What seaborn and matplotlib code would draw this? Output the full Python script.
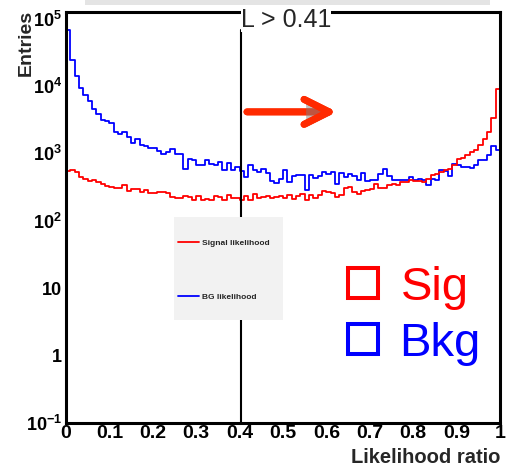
import numpy as np
import pandas as pd
import matplotlib
matplotlib.use("Agg")
import matplotlib.pyplot as plt
import seaborn as sns
from matplotlib.patches import Rectangle
from matplotlib.ticker import LogLocator, NullFormatter, MultipleLocator
import matplotlib.patheffects as pe

# ---------------- data ----------------
n_bins = 100
x_range = (0.0, 1.0)
bin_edges = np.linspace(x_range[0], x_range[1], n_bins + 1)
bin_centers = 0.5 * (bin_edges[:-1] + bin_edges[1:])

bkg_counts = [
    68000, 24000, 14000, 9200, 7300, 5900, 4600, 3800, 3100, 3000,
    2800, 2100, 1960, 2100, 1750, 1440, 1650, 1350, 1280, 1200,
    1200, 1080, 990, 1045, 1175, 990, 990, 578, 834, 787,
    679, 663, 806, 703, 679, 743, 558, 728, 558, 625,
    550, 444, 663, 558, 527, 578, 510, 387, 362, 411,
    572, 375, 455, 470, 470, 282, 470, 435, 455, 527,
    498, 527, 346, 510, 444, 498, 455, 406, 510, 383,
    406, 406, 498, 592, 455, 406, 397, 397, 397, 444,
    397, 420, 397, 334, 420, 406, 572, 545, 455, 686,
    663, 625, 625, 612, 679, 806, 806, 956, 1270, 1110,
]
sig_counts = [
    540, 560, 527, 445, 420, 383, 406, 375, 354, 323,
    316, 310, 305, 334, 275, 298, 292, 266, 282, 257,
    260, 265, 265, 255, 224, 216, 216, 232, 224, 200,
    237, 200, 207, 200, 232, 224, 205, 243, 216, 216,
    205, 237, 200, 252, 219, 224, 237, 219, 224, 237,
    216, 245, 212, 237, 252, 200, 243, 216, 243, 275,
    270, 257, 224, 245, 310, 316, 266, 252, 272, 288,
    298, 354, 310, 310, 334, 354, 334, 375, 375, 397,
    395, 383, 375, 420, 470, 498, 527, 558, 592, 663,
    834, 863, 934, 1045, 1110, 1315, 1653, 2070, 3350, 8930,
]

x_ticks = [0, 0.1, 0.2, 0.3, 0.4, 0.5, 0.6, 0.7, 0.8, 0.9, 1.0]
x_tick_labels = ["0", "0.1", "0.2", "0.3", "0.4", "0.5", "0.6", "0.7", "0.8", "0.9", "1"]
y_ticks = [0.1, 1, 10, 100, 1e3, 1e4, 1e5]
y_tick_labels = ["10$^{-1}$", "1", "10", "10$^{2}$", "10$^{3}$", "10$^{4}$", "10$^{5}$"]
cut_value = 0.403

df = pd.DataFrame({"lr": bin_centers, "sig": sig_counts, "bkg": bkg_counts})

# ---------------- style ----------------
sns.set_style("white")
plt.rcParams["font.family"] = ["Liberation Sans", "DejaVu Sans"]
plt.rcParams.update({
    "mathtext.fontset": "custom",
    "mathtext.rm": "Liberation Sans:bold",
    "mathtext.it": "Liberation Sans:bold",
    "mathtext.bf": "Liberation Sans:bold",
    "mathtext.default": "rm",
})

W, H = 513, 467
fig = plt.figure(figsize=(W / 100, H / 100), dpi=100)
ax = fig.add_axes([66 / W, 1 - 423 / H, 434 / W, 411 / H])

sns.histplot(data=df, x="lr", weights="bkg", bins=n_bins, binrange=x_range, element="step",
             fill=False, color="#0000ff", linewidth=1.3, ax=ax, label="BG likelihood")
sns.histplot(data=df, x="lr", weights="sig", bins=n_bins, binrange=x_range, element="step",
             fill=False, color="#ff0000", linewidth=1.3, ax=ax, label="Signal likelihood")

ax.set_yscale("log")
ax.set_xlim(0, 1)
ax.set_ylim(0.1, 1.25e5)

ax.set_xticks(x_ticks, labels=x_tick_labels)
ax.xaxis.set_minor_locator(MultipleLocator(0.1 / 6))
ax.set_yticks(y_ticks, labels=y_tick_labels)
ax.yaxis.set_minor_locator(LogLocator(base=10, subs=np.arange(2, 10), numticks=30))
ax.yaxis.set_minor_formatter(NullFormatter())

ax.tick_params(axis="both", which="major", direction="in", length=9, width=1.2,
               top=False, right=False, colors="black")
ax.tick_params(axis="x", which="major", pad=1.5, labelsize=14)
ax.tick_params(axis="y", which="major", pad=3, labelsize=13)
ax.tick_params(axis="both", which="minor", direction="in", length=4.5, width=1.0,
               top=False, right=False)
for lbl in ax.get_xticklabels() + ax.get_yticklabels():
    lbl.set_fontweight("bold")

for s in ax.spines.values():
    s.set_linewidth(2.2)
    s.set_color("black")
    s.set_zorder(10)

ax.set_xlabel("Likelihood ratio", fontsize=14.5, fontweight="bold", loc="right")
ax.xaxis.label.set_va("baseline")
ax.xaxis.set_label_coords(1.0, (423 - 463) / 411)
ax.set_ylabel("Entries", fontsize=14, fontweight="bold", loc="top")
ax.yaxis.set_label_coords(-0.072, 1.005)

# cut line and label
ax.axvline(cut_value, ymin=0, ymax=0.956, color="black", lw=1.5, zorder=3)
ax.text(0.403, 0.9635, "L > 0.41", transform=ax.transAxes, fontsize=18,
        va="baseline", ha="left", zorder=12,
        bbox=dict(facecolor="white", edgecolor="none", pad=0))

# arrow
ax.annotate("", xy=(0.624, 0.757), xytext=(0.417, 0.757), xycoords="axes fraction",
            arrowprops=dict(arrowstyle="->,head_length=0.9,head_width=0.45", lw=5,
                            color="#ff2a00", mutation_scale=20, shrinkA=0, shrinkB=0,
                            capstyle="round", joinstyle="round",
                            path_effects=[pe.withSimplePatchShadow(offset=(1.5, -2),
                                                                   shadow_rgbFace="0.5",
                                                                   alpha=0.5),
                                          pe.Normal()]))

# legend: grey panel + entries
ax.add_patch(Rectangle((174 / W, 1 - 320 / H), 109 / W, 103 / H, transform=fig.transFigure,
                       facecolor="#f2f2f2", edgecolor="none", zorder=7))
handles, labels = ax.get_legend_handles_labels()
leg = ax.legend(handles[::-1], labels[::-1], loc="upper left",
                bbox_to_anchor=(174 / W, 1 - 235 / H), bbox_transform=fig.transFigure,
                prop={"weight": "bold", "size": 6}, frameon=False, borderpad=0.5,
                handlelength=2.5, labelspacing=5.5, handletextpad=0.35, borderaxespad=0)
leg.set_zorder(8)

# Sig / Bkg key
ax.add_patch(Rectangle((0.649, 0.304), 0.0698, 0.0737, transform=ax.transAxes,
                       fill=False, edgecolor="#ff0000", lw=2.9, zorder=9))
ax.add_patch(Rectangle((0.649, 0.168), 0.0698, 0.0737, transform=ax.transAxes,
                       fill=False, edgecolor="#0000ff", lw=2.9, zorder=9))
ax.text(0.772, 0.299, "Sig", transform=ax.transAxes, color="#ff0000", fontsize=34,
        va="baseline", ha="left", zorder=9)
ax.text(0.767, 0.164, "Bkg", transform=ax.transAxes, color="#0000ff", fontsize=34,
        va="baseline", ha="left", zorder=9)

# faint grey band at top (edge of a title box)
fig.add_artist(Rectangle((85 / W, 1 - 5 / H), 405 / W, 5 / H, transform=fig.transFigure,
                         facecolor="#e4e4e4", edgecolor="none"))

fig.savefig("out.png", dpi=100)
